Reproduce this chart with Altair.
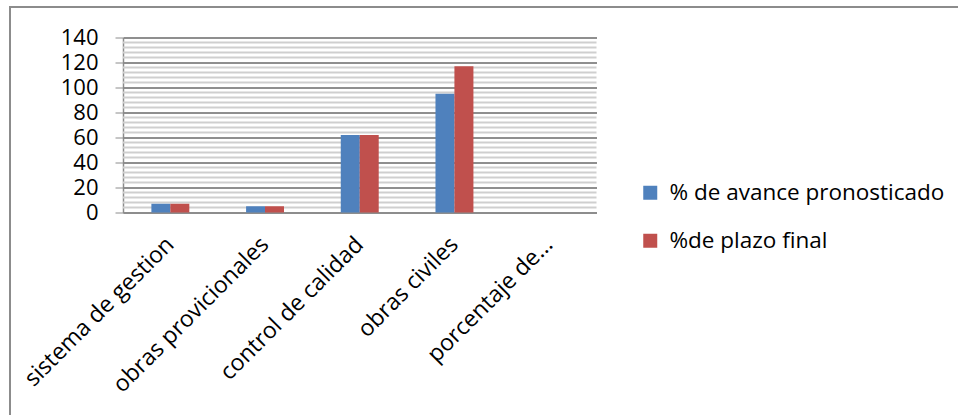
import altair as alt
import pandas as pd

# Activities and the two percentage series per activity
categories = [
    "sistema de gestion",
    "obras provicionales",
    "control de calidad",
    "obras civiles",
    "porcentaje de...",
]
avance_pronosticado = [7, 5, 62, 95, 0]
plazo_final = [7, 5, 62, 117, 0]
series_names = ["% de avance pronosticado", "%de plazo final"]
series_colors = ["#4F81BD", "#C0504D"]
major_ticks = list(range(0, 141, 20))
minor_lines = [v for v in range(0, 141, 4) if v % 20 != 0]

rows = []
for cat, a, p in zip(categories, avance_pronosticado, plazo_final):
    rows.append({"actividad": cat, "serie": series_names[0], "valor": a})
    rows.append({"actividad": cat, "serie": series_names[1], "valor": p})
df = pd.DataFrame(rows)

FONT = "Open Sans"
y_scale = alt.Scale(domain=[0, 140], nice=False)

# Light minor gridlines every 4 units
minor = alt.Chart(pd.DataFrame({"v": minor_lines})).mark_rule(
    color="#cfcfcf", strokeWidth=2
).encode(y=alt.Y("v:Q", scale=y_scale, axis=None))

bars = alt.Chart(df).mark_bar(size=19).encode(
    x=alt.X(
        "actividad:N",
        sort=categories,
        title=None,
        scale=alt.Scale(paddingInner=0.6, paddingOuter=0.3),
        axis=alt.Axis(
            labelAngle=-45,
            labelAlign="right",
            labelBaseline="middle",
            labelFontSize=23,
            labelFont=FONT,
            labelColor="#000000",
            labelPadding=28,
            labelLimit=0,
            ticks=False,
            domainColor="#8c8c8c",
            domainWidth=1.5,
            grid=False,
        ),
    ),
    xOffset=alt.XOffset("serie:N", sort=series_names),
    y=alt.Y(
        "valor:Q",
        title=None,
        scale=y_scale,
        axis=alt.Axis(
            orient="left",
            values=major_ticks,
            labelFontSize=22,
            labelFont=FONT,
            labelColor="#000000",
            labelPadding=17,
            tickSize=8,
            tickColor="#8c8c8c",
            domainColor="#8c8c8c",
            domainWidth=1.5,
            grid=True,
            gridColor="#8f8f8f",
            gridWidth=2,
        ),
    ),
    color=alt.Color(
        "serie:N",
        sort=series_names,
        scale=alt.Scale(domain=series_names, range=series_colors),
        legend=alt.Legend(
            title=None,
            orient="none",
            legendX=516,
            legendY=144,
            symbolType="square",
            symbolSize=196,
            symbolStrokeWidth=0,
            symbolOpacity=1,
            labelFontSize=22.5,
            labelFont=FONT,
            labelColor="#000000",
            labelOffset=8,
            labelLimit=0,
            rowPadding=25,
        ),
    ),
)

# Frame lines along the left and top of the chart
frame_left = alt.Chart(alt.Data(values=[{}])).mark_rule(
    color="#8c8c8c", strokeWidth=2
).encode(x=alt.value(-113), y=alt.value(-30.5), y2=alt.value(420))
frame_top = alt.Chart(alt.Data(values=[{}])).mark_rule(
    color="#8c8c8c", strokeWidth=2
).encode(x=alt.value(-114), x2=alt.value(1000), y=alt.value(-30.5))

chart = alt.layer(frame_left, frame_top, minor, bars).resolve_axis(
    y="independent"
).properties(
    width=473.5,
    height=175,
    autosize=alt.AutoSizeParams(type="none"),
    padding={"left": 123, "top": 37.5, "right": 361.5, "bottom": 202.5},
    background="#ffffff",
).configure_view(stroke=None)

chart.save("out.html", embed_options={"renderer": "svg", "actions": False})
